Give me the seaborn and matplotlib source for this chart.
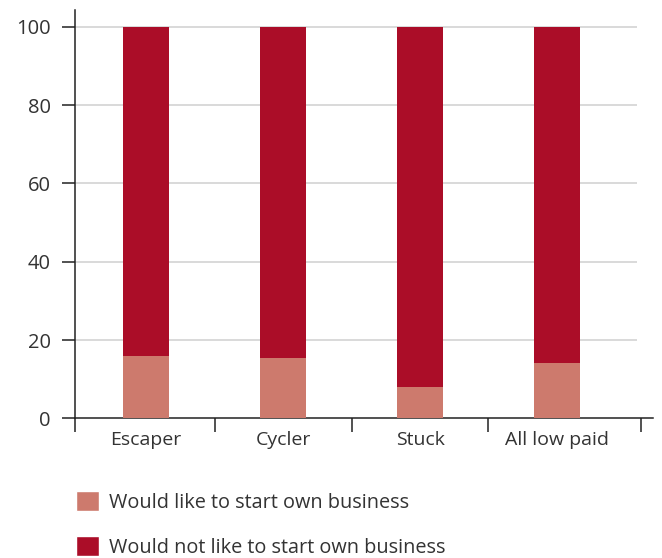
import matplotlib.pyplot as plt
import numpy as np
import pandas as pd
import seaborn as sns
from matplotlib.patches import Patch

# data
categories = ["Escaper", "Cycler", "Stuck", "All low paid"]
would_like = [16, 15.5, 8, 14]
would_not_like = [84, 84.5, 92, 86]
yticks = [0, 20, 40, 60, 80, 100]

light_red = "#cd7a6d"
dark_red = "#ab0d28"
text_col = "#333333"

df = pd.DataFrame({
    "group": categories,
    "like": would_like,
    "total": np.array(would_like) + np.array(would_not_like),
})

sns.set_style("white")
plt.rcParams["font.family"] = ["Open Sans", "DejaVu Sans"]

fig = plt.figure(figsize=(6.62, 5.58), dpi=100)
ax = fig.add_axes([75 / 662, (558 - 418.3) / 558, (653 - 75) / 662, (418.3 - 10) / 558])

# stacked: full bar in dark, lower part in light on top
sns.barplot(data=df, x="group", y="total", color=dark_red, width=0.34,
            saturation=1, linewidth=0, ax=ax, zorder=3)
sns.barplot(data=df, x="group", y="like", color=light_red, width=0.34,
            saturation=1, linewidth=0, ax=ax, zorder=3)

ax.set_xlim(-0.518, 3.70)
ax.set_ylim(0, 104.3)

# grid lines
for yv in yticks[1:]:
    ax.hlines(yv, -0.518, 3.58, color="#d3d3d3", linewidth=1.2, zorder=1)

ax.set_yticks(yticks)
ax.set_yticklabels([str(v) for v in yticks], fontsize=14.5, color=text_col)
ax.tick_params(axis="y", direction="out", length=9.5, width=1.1, color="#222222", pad=8, left=True)

ax.set_xticks(range(len(categories)))
ax.set_xticklabels(categories, fontsize=14, color=text_col)
ax.tick_params(axis="x", which="major", length=0, pad=9)
ax.set_xticks([-0.518, 0.504, 1.504, 2.496, 3.613], minor=True)
ax.tick_params(axis="x", which="minor", direction="out", length=10, width=1.1, color="#222222", bottom=True)

ax.set_xlabel("")
ax.set_ylabel("")
for s in ["top", "right"]:
    ax.spines[s].set_visible(False)
for s in ["left", "bottom"]:
    ax.spines[s].set_color("#222222")
    ax.spines[s].set_linewidth(1.1)

handles = [Patch(facecolor=light_red, label="Would like to start own business"),
           Patch(facecolor=dark_red, label="Would not like to start own business")]
fig.legend(handles=handles, loc="upper left", bbox_to_anchor=(76 / 662, 1 - 491 / 558),
           frameon=False, fontsize=14.3, handlelength=1.15, handleheight=1.15,
           handletextpad=0.5, labelspacing=1.2, borderpad=0, borderaxespad=0,
           labelcolor=text_col)

fig.savefig("out.png", dpi=100)
